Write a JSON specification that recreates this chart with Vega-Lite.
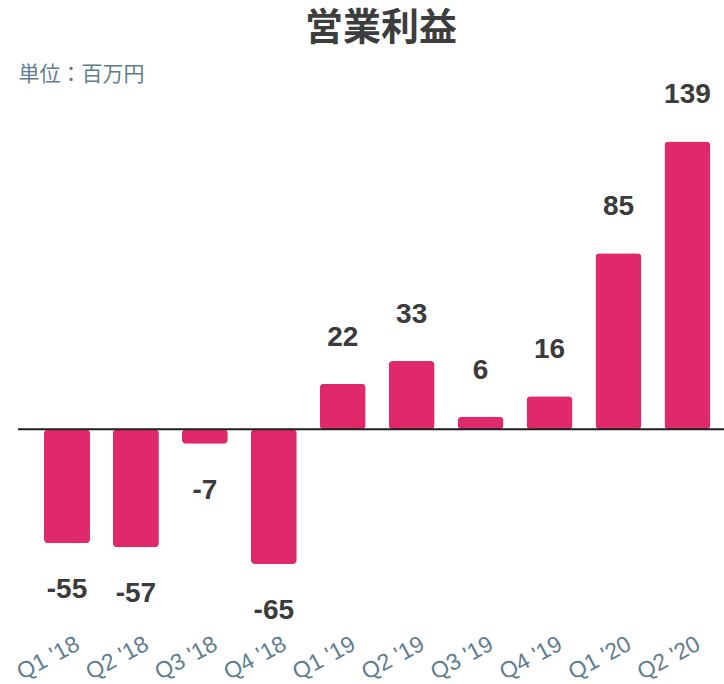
{
  "$schema": "https://vega.github.io/schema/vega-lite/v6.json",
  "width": 706,
  "height": 528,
  "autosize": {"type": "none"},
  "padding": {"left": 18, "top": 98, "right": 0, "bottom": 58},
  "background": "white",
  "config": {"view": {"stroke": null}},
  "title": {
    "text": "営業利益",
    "font": "Noto Sans CJK JP",
    "fontSize": 38,
    "fontWeight": "bold",
    "color": "#3d3d3d",
    "anchor": "middle",
    "offset": 15,
    "dx": 10
  },
  "data": {
    "values": [
      {"quarter": "Q1 '18", "value": -55},
      {"quarter": "Q2 '18", "value": -57},
      {"quarter": "Q3 '18", "value": -7},
      {"quarter": "Q4 '18", "value": -65},
      {"quarter": "Q1 '19", "value": 22},
      {"quarter": "Q2 '19", "value": 33},
      {"quarter": "Q3 '19", "value": 6},
      {"quarter": "Q4 '19", "value": 16},
      {"quarter": "Q1 '20", "value": 85},
      {"quarter": "Q2 '20", "value": 139}
    ]
  },
  "layer": [
    {
      "mark": {"type": "bar", "color": "#E0296B", "cornerRadius": 4},
      "encoding": {
        "x": {
          "field": "quarter", "type": "nominal", "sort": null,
          "scale": {"paddingInner": 0.333, "paddingOuter": 0.287, "align": 0.657},
          "axis": {
            "title": null, "labelAngle": -28, "labelAlign": "right", "labelBaseline": "middle",
            "labelFont": "Liberation Sans", "labelFontSize": 23, "labelColor": "#5f7d8f",
            "labelPadding": 16, "labelOffset": 11, "labelOverlap": false, "labelBound": false,
            "domain": false, "ticks": false, "grid": false
          }
        },
        "y": {
          "field": "value", "type": "quantitative",
          "scale": {"domain": [-95, 160], "nice": false, "zero": true},
          "axis": {
            "title": "単位：百万円", "titleAngle": 0, "titleAlign": "left", "titleBaseline": "middle",
            "titleX": 0, "titleY": -24, "titleFont": "Noto Sans CJK JP", "titleFontSize": 21,
            "titleFontWeight": "normal", "titleColor": "#5f7d8f",
            "labels": false, "ticks": false, "domain": false, "grid": false
          }
        }
      }
    },
    {
      "data": {"values": [{"zero": 0}]},
      "mark": {"type": "rule", "color": "#1e1e1e", "strokeWidth": 2},
      "encoding": {"y": {"field": "zero", "type": "quantitative"}}
    },
    {
      "transform": [{"filter": "datum.value >= 0"}],
      "mark": {"type": "text", "font": "Liberation Sans", "fontSize": 28, "fontWeight": "bold", "color": "#3b3b3b", "baseline": "middle", "dy": -46},
      "encoding": {
        "x": {"field": "quarter", "type": "nominal", "sort": null},
        "y": {"field": "value", "type": "quantitative"},
        "text": {"field": "value", "type": "nominal"}
      }
    },
    {
      "transform": [{"filter": "datum.value < 0"}],
      "mark": {"type": "text", "font": "Liberation Sans", "fontSize": 28, "fontWeight": "bold", "color": "#3b3b3b", "baseline": "middle", "dy": 47},
      "encoding": {
        "x": {"field": "quarter", "type": "nominal", "sort": null},
        "y": {"field": "value", "type": "quantitative"},
        "text": {"field": "value", "type": "nominal"}
      }
    }
  ]
}
